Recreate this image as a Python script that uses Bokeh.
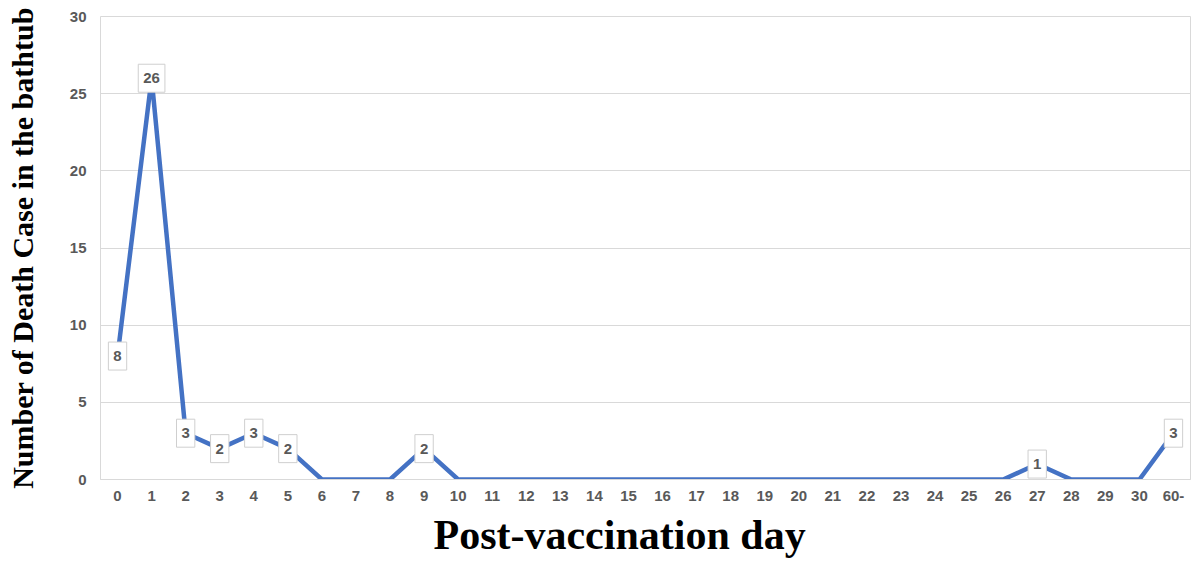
from bokeh.plotting import figure
from bokeh.models import ColumnDataSource, FactorRange, Range1d, FixedTicker, Title
from bokeh.core.properties import value
from bokeh.embed import file_html
from bokeh.resources import INLINE

days = [str(i) for i in range(31)] + ["60-"]
deaths = [8, 26, 3, 2, 3, 2, 0, 0, 0, 2, 0, 0, 0, 0, 0, 0, 0, 0, 0, 0,
          0, 0, 0, 0, 0, 0, 0, 1, 0, 0, 0, 3]
y_ticks = [0, 5, 10, 15, 20, 25, 30]

src = ColumnDataSource(dict(day=days, n=deaths))
lab = ColumnDataSource(dict(
    day=[d for d, v in zip(days, deaths) if v > 0],
    n=[v for v in deaths if v > 0],
    txt=[str(v) for v in deaths if v > 0],
))

p = figure(x_range=FactorRange(*days), y_range=Range1d(0, 30),
           frame_width=1090, frame_height=463, output_backend="svg", toolbar_location=None,
           min_border_left=100, min_border_right=2, min_border_top=16, min_border_bottom=78)

p.line("day", "n", source=src, line_color="#4472C4", line_width=4.5)
p.text("day", "n", text="txt", source=lab, text_align="center", text_baseline="middle",
       text_font=value("Liberation Sans"), text_font_size="15px", text_font_style="bold",
       text_color="#595959", background_fill_color="white", border_line_color="#cfcfcf",
       border_line_width=1, padding=(5, 9))

p.outline_line_color = "#d9d9d9"
p.background_fill_color = "white"
p.xgrid.grid_line_color = None
p.ygrid.grid_line_color = "#d9d9d9"
p.ygrid.ticker = FixedTicker(ticks=y_ticks)
p.yaxis.ticker = FixedTicker(ticks=y_ticks)

for ax in (p.xaxis[0], p.yaxis[0]):
    ax.major_tick_line_color = None
    ax.minor_tick_line_color = None
    ax.major_tick_out = 0
    ax.major_tick_in = 0
    ax.major_label_text_font = "Liberation Sans"
    ax.major_label_text_font_size = "15px"
    ax.major_label_text_font_style = "bold"
    ax.major_label_text_color = "#595959"
    ax.axis_label_text_font = "Liberation Serif"
    ax.axis_label_text_font_style = "bold"
    ax.axis_label_text_color = "black"

p.xaxis.axis_line_color = "#d9d9d9"
p.yaxis.axis_line_color = None
p.xaxis.major_label_standoff = 11
p.yaxis.major_label_standoff = 14
p.yaxis.axis_label = "Number of Death Case in the bathtub"
p.yaxis.axis_label_text_font_size = "30px"
p.yaxis.axis_label_standoff = 28

xt = Title(text="Post-vaccination day", align="left", offset=333,
           text_font="Liberation Serif", text_font_style="bold",
           text_font_size="42px", text_color="black", standoff=12)
p.add_layout(xt, "below")

open("out.html", "w").write(file_html(p, INLINE))
